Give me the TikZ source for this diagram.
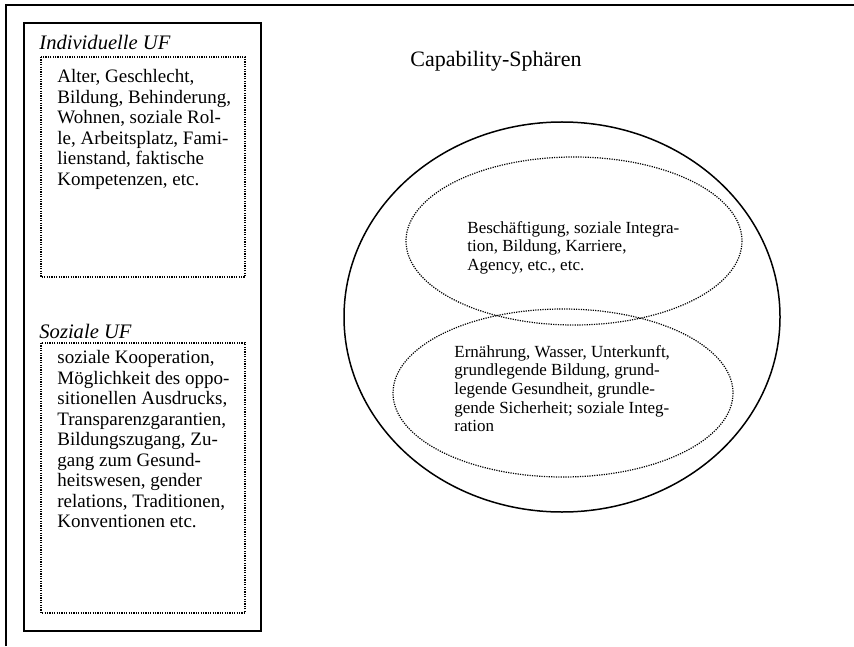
\documentclass[tikz,border=0pt]{standalone}
\usepackage{fontspec}
\setmainfont{Liberation Serif}

\begin{document}
\begin{tikzpicture}[x=0.5pt,y=-0.5pt,
    frame/.style={line width=1pt},
    dotbox/.style={dash pattern=on 0.6pt off 0.6pt, line width=0.6pt},
    ufhead/.style={anchor=base west, inner sep=0pt, font=\fontsize{10.3}{12}\selectfont\itshape},
    uftext/.style={anchor=north west, inner sep=0pt, align=left, font=\fontsize{9.5}{10.25}\selectfont},
    sphtext/.style={anchor=north west, inner sep=0pt, align=left, font=\fontsize{8.5}{9.3}\selectfont}]
\useasboundingbox (0,0) rectangle (854,646);

% frame, cut off at right and bottom
\draw[frame] (6,646) -- (6,5) -- (854,5);

% unit box with the two kinds of factors
\draw[frame] (24,23) rectangle (261,631);

\node[ufhead] (indhead) at (39,50) {Individuelle UF};
\draw[dotbox] (41,57) rectangle (245,277);
\node[uftext] (indtext) at (57,69) {Alter, Geschlecht,\\Bildung, Behinderung,\\Wohnen, soziale Rol-\\le, Arbeitsplatz, Fami-\\lienstand, faktische\\Kompetenzen, etc.};

\node[ufhead] (sozhead) at (39,338) {Soziale UF};
\draw[dotbox] (41,343) rectangle (245,613);
\node[uftext] (soztext) at (57,350) {soziale Kooperation,\\M\"oglichkeit des oppo-\\sitionellen Ausdrucks,\\Transparenzgarantien,\\Bildungszugang, Zu-\\gang zum Gesund-\\heitswesen, gender\\relations, Traditionen,\\Konventionen etc.};

% capability spheres
\node[anchor=base, inner sep=0pt, font=\fontsize{11}{13}\selectfont] (caphead) at (496,67) {Capability-Sph\"aren};
\draw[line width=0.75pt] (562,317) ellipse [x radius=218, y radius=195];
\draw[dotbox] (574,241) ellipse [x radius=168, y radius=84];
\draw[dotbox] (563,393) ellipse [x radius=170, y radius=84];

\node[sphtext] (upper) at (467,221) {Besch\"aftigung, soziale Integra-\\tion, Bildung, Karriere,\\Agency, etc., etc.};
\node[sphtext] (lower) at (454,345) {Ern\"ahrung, Wasser, Unterkunft,\\grundlegende Bildung, grund-\\legende Gesundheit, grundle-\\gende Sicherheit; soziale Integ-\\ration};

\end{tikzpicture}
\end{document}
